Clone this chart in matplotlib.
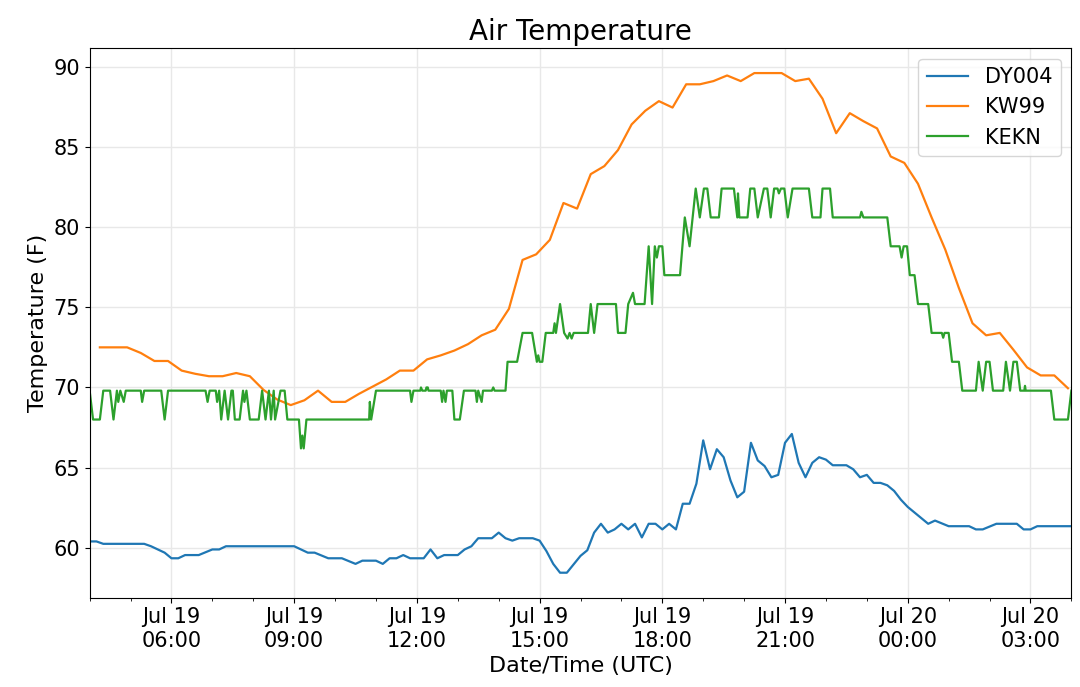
import matplotlib
matplotlib.use('Agg')
import matplotlib.dates as mdates
import matplotlib.pyplot as plt
import pandas as pd

# Observation clock times (UTC), starting Jul 19; a drop in the clock means next day
dy004_times = [
    '04:00', '04:10', '04:20', '05:20', '05:30', '05:40', '05:50', '06:00',
    '06:10', '06:20', '06:40', '07:00', '07:10', '07:20', '09:00', '09:20',
    '09:30', '09:50', '10:10', '10:30', '10:40', '11:00', '11:10', '11:20',
    '11:30', '11:40', '11:50', '12:10', '12:20', '12:30', '12:40', '13:00',
    '13:10', '13:20', '13:30', '13:50', '14:00', '14:10', '14:20', '14:30',
    '14:50', '15:00', '15:10', '15:20', '15:30', '15:40', '16:00', '16:10',
    '16:20', '16:30', '16:40', '16:50', '17:00', '17:10', '17:20', '17:30',
    '17:40', '17:50', '18:00', '18:10', '18:20', '18:30', '18:40', '18:50',
    '19:00', '19:10', '19:20', '19:30', '19:40', '19:50', '20:00', '20:10',
    '20:20', '20:30', '20:40', '20:50', '21:00', '21:10', '21:20', '21:30',
    '21:40', '21:50', '22:00', '22:10', '22:30', '22:40', '22:50', '23:00',
    '23:10', '23:20', '23:30', '23:40', '23:50', '00:00', '00:30', '00:40',
    '01:00', '01:30', '01:40', '01:50', '02:10', '02:40', '02:50', '03:00',
    '03:10', '04:00',
]
dy004_temp = [
    60.4, 60.4, 60.25, 60.25, 60.1, 59.9, 59.7, 59.35,
    59.35, 59.55, 59.55, 59.9, 59.9, 60.1, 60.1, 59.7,
    59.7, 59.35, 59.35, 59.0, 59.2, 59.2, 59.0, 59.35,
    59.35, 59.55, 59.35, 59.35, 59.9, 59.35, 59.55, 59.55,
    59.9, 60.1, 60.6, 60.6, 60.95, 60.6, 60.45, 60.6,
    60.6, 60.45, 59.8, 59.0, 58.45, 58.45, 59.5, 59.85,
    60.95, 61.5, 60.95, 61.15, 61.5, 61.15, 61.5, 60.65,
    61.5, 61.5, 61.15, 61.5, 61.15, 62.75, 62.75, 64.0,
    66.7, 64.9, 66.15, 65.65, 64.2, 63.15, 63.5, 66.55,
    65.45, 65.1, 64.4, 64.55, 66.55, 67.1, 65.3, 64.4,
    65.3, 65.65, 65.5, 65.15, 65.15, 64.9, 64.4, 64.55,
    64.05, 64.05, 63.9, 63.55, 63.0, 62.55, 61.5, 61.7,
    61.35, 61.35, 61.15, 61.15, 61.5, 61.5, 61.15, 61.15,
    61.35, 61.35,
]

kw99_times = [
    '04:15', '04:35', '04:55', '05:15', '05:35', '05:55', '06:15', '06:35',
    '06:55', '07:15', '07:35', '07:55', '08:15', '08:35', '08:55', '09:15',
    '09:35', '09:55', '10:15', '10:35', '10:55', '11:15', '11:35', '11:55',
    '12:15', '12:35', '12:55', '13:15', '13:35', '13:55', '14:15', '14:35',
    '14:55', '15:15', '15:35', '15:55', '16:15', '16:35', '16:55', '17:15',
    '17:35', '17:55', '18:15', '18:35', '18:55', '19:15', '19:35', '19:55',
    '20:15', '20:35', '20:55', '21:15', '21:35', '21:55', '22:15', '22:35',
    '22:55', '23:15', '23:35', '23:55', '00:15', '00:35', '00:55', '01:15',
    '01:35', '01:55', '02:15', '02:35', '02:55', '03:15', '03:35', '03:55',
]
kw99_temp = [
    72.5, 72.5, 72.5, 72.15, 71.65, 71.65, 71.05, 70.85,
    70.7, 70.7, 70.9, 70.7, 69.85, 69.25, 68.9, 69.2,
    69.8, 69.1, 69.1, 69.6, 70.05, 70.5, 71.05, 71.05,
    71.75, 72.0, 72.3, 72.7, 73.25, 73.6, 74.9, 77.95,
    78.3, 79.2, 81.5, 81.15, 83.3, 83.8, 84.8, 86.4,
    87.25, 87.85, 87.45, 88.9, 88.9, 89.1, 89.45, 89.1,
    89.6, 89.6, 89.6, 89.1, 89.25, 88.0, 85.85, 87.1,
    86.6, 86.15, 84.4, 84.0, 82.7, 80.6, 78.6, 76.2,
    74.0, 73.25, 73.4, 72.35, 71.25, 70.75, 70.75, 69.95,
]

kekn_times = [
    '04:00', '04:05', '04:15', '04:20', '04:30', '04:35', '04:40', '04:42',
    '04:45', '04:50', '04:53', '05:15', '05:17', '05:20', '05:45', '05:50',
    '05:55', '06:50', '06:53', '06:56', '07:05', '07:07', '07:10', '07:13',
    '07:18', '07:23', '07:28', '07:30', '07:33', '07:40', '07:45', '07:47',
    '07:50', '07:55', '08:08', '08:13', '08:18', '08:23', '08:26', '08:30',
    '08:32', '08:40', '08:46', '08:50', '09:07', '09:10', '09:12', '09:14',
    '09:18', '10:50', '10:51', '10:53', '11:00', '11:50', '11:52', '11:55',
    '12:05', '12:06', '12:08', '12:13', '12:14', '12:16', '12:17', '12:35',
    '12:37', '12:39', '12:42', '12:44', '12:52', '12:55', '13:03', '13:09',
    '13:26', '13:28', '13:30', '13:35', '13:37', '13:50', '13:52', '13:54',
    '14:10', '14:13', '14:27', '14:35', '14:49', '14:56', '14:58', '15:00',
    '15:04', '15:09', '15:20', '15:22', '15:24', '15:30', '15:36', '15:41',
    '15:44', '15:47', '15:50', '16:11', '16:15', '16:20', '16:25', '16:52',
    '16:55', '17:06', '17:10', '17:17', '17:20', '17:34', '17:40', '17:45',
    '17:49', '17:52', '17:55', '18:00', '18:03', '18:26', '18:33', '18:40',
    '18:49', '18:55', '19:01', '19:06', '19:11', '19:23', '19:27', '19:45',
    '19:50', '19:51', '19:53', '20:05', '20:09', '20:15', '20:20', '20:29',
    '20:34', '20:39', '20:44', '20:49', '20:51', '20:54', '20:59', '21:04',
    '21:11', '21:35', '21:40', '21:52', '21:55', '22:06', '22:10', '22:50',
    '22:52', '22:55', '23:30', '23:35', '23:48', '23:51', '23:54', '23:59',
    '00:03', '00:10', '00:15', '00:30', '00:35', '00:50', '00:52', '00:54',
    '01:00', '01:05', '01:15', '01:20', '01:40', '01:44', '01:50', '01:55',
    '02:00', '02:05', '02:20', '02:24', '02:30', '02:35', '02:40', '02:45',
    '02:51', '02:52', '02:53', '03:30', '03:35', '03:55', '04:00',
]
kekn_temp = [
    69.8, 68.0, 68.0, 69.8, 69.8, 68.0, 69.8, 69.1,
    69.8, 69.1, 69.8, 69.8, 69.1, 69.8, 69.8, 68.0,
    69.8, 69.8, 69.1, 69.8, 69.8, 69.1, 69.8, 68.0,
    69.8, 68.0, 69.8, 69.8, 68.0, 68.0, 69.8, 69.1,
    69.8, 68.0, 68.0, 69.8, 68.0, 69.8, 68.0, 69.8,
    68.0, 69.8, 69.8, 68.0, 68.0, 66.2, 67.0, 66.2,
    68.0, 68.0, 69.1, 68.0, 69.8, 69.8, 69.1, 69.8,
    69.8, 70.0, 69.8, 69.8, 70.0, 70.0, 69.8, 69.8,
    69.1, 69.8, 69.1, 69.8, 69.8, 68.0, 68.0, 69.8,
    69.8, 69.1, 69.8, 69.1, 69.8, 69.8, 70.0, 69.8,
    69.8, 71.6, 71.6, 73.4, 73.4, 71.6, 72.0, 71.6,
    71.6, 73.4, 73.4, 74.0, 73.4, 75.2, 73.4, 73.05,
    73.4, 73.05, 73.4, 73.4, 75.2, 73.4, 75.2, 75.2,
    73.4, 73.4, 75.2, 75.9, 75.2, 75.2, 78.8, 75.2,
    78.8, 78.1, 78.8, 78.8, 77.0, 77.0, 80.6, 78.8,
    82.4, 80.6, 82.4, 82.4, 80.6, 80.6, 82.4, 82.4,
    80.6, 82.1, 80.6, 80.6, 82.4, 82.4, 80.6, 82.4,
    82.4, 80.6, 82.4, 82.4, 82.1, 82.4, 82.4, 80.6,
    82.4, 82.4, 80.6, 80.6, 82.4, 82.4, 80.6, 80.6,
    80.95, 80.6, 80.6, 78.8, 78.8, 78.1, 78.8, 78.8,
    77.0, 77.0, 75.2, 75.2, 73.4, 73.4, 73.1, 73.4,
    73.4, 71.6, 71.6, 69.8, 69.8, 71.6, 69.8, 71.6,
    71.6, 69.8, 69.8, 71.6, 69.8, 71.6, 71.6, 69.8,
    69.8, 70.1, 69.8, 69.8, 68.0, 68.0, 69.8,
]

station_names = ['DY004', 'KW99', 'KEKN']


def to_datetimes(clock_times, start='2019-07-19'):
    # turn HH:MM strings into timestamps, rolling over at midnight
    day = pd.Timestamp(start)
    out = []
    prev = None
    for c in clock_times:
        t = pd.Timedelta(hours=int(c[:2]), minutes=int(c[3:]))
        if prev is not None and t < prev:
            day += pd.Timedelta(days=1)
        prev = t
        out.append(day + t)
    return out


series = [
    (to_datetimes(dy004_times), dy004_temp),
    (to_datetimes(kw99_times), kw99_temp),
    (to_datetimes(kekn_times), kekn_temp),
]

fig, ax = plt.subplots(figsize=(10.8, 6.87), dpi=100)
fig.subplots_adjust(left=0.083, right=0.992, top=0.930, bottom=0.130)

for (times, temps), name in zip(series, station_names):
    ax.plot(times, temps, label=name, linewidth=1.6)

all_times = [t for times, _ in series for t in times]
ax.set_xlim(min(all_times), max(all_times))

ax.xaxis.set_major_locator(mdates.HourLocator(byhour=range(0, 24, 3)))
ax.xaxis.set_minor_locator(mdates.HourLocator())
ax.xaxis.set_major_formatter(mdates.DateFormatter('%b %d\n%H:%M'))
ax.set_yticks([60, 65, 70, 75, 80, 85, 90])

ax.grid(True, which='major', color='#e8e8e8', linewidth=1)
ax.set_axisbelow(True)
ax.tick_params(axis='both', which='major', labelsize=15)

ax.set_title('Air Temperature', fontsize=20)
ax.set_xlabel('Date/Time (UTC)', fontsize=16)
ax.set_ylabel('Temperature (F)', fontsize=16)
ax.legend(loc='upper right', fontsize=15)

for label in ax.get_xticklabels():
    label.set_horizontalalignment('center')

fig.savefig('out.png', dpi=100)
